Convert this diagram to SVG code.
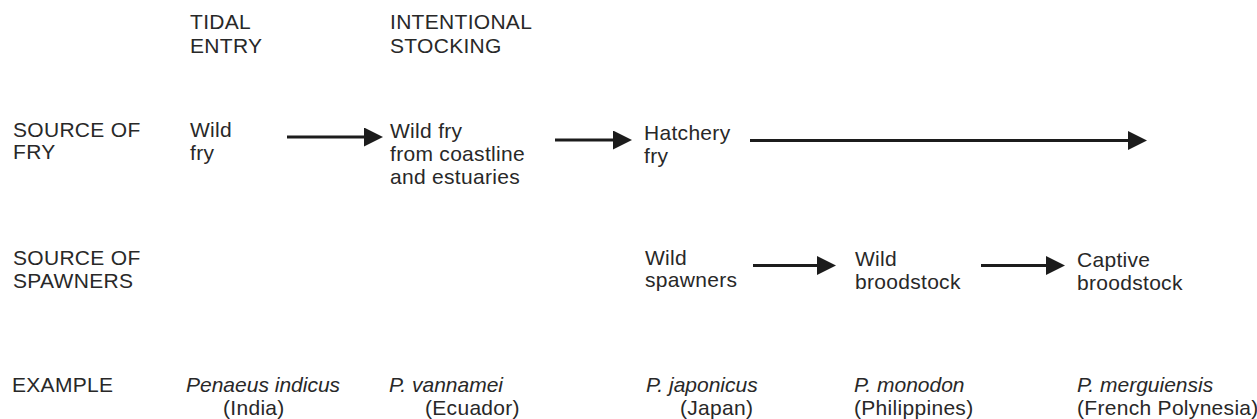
<svg xmlns="http://www.w3.org/2000/svg" width="1257" height="419" viewBox="0 0 1257 419">
<style>
text{font-family:"Liberation Sans",Arial,sans-serif;font-size:21px;fill:#282828;letter-spacing:0.3px}
.i{font-style:italic;letter-spacing:0}
.c{stroke:#1c1c1c;stroke-width:2.8;fill:none}
</style>
<defs>
<marker id="ah" viewBox="0 0 19 19" refX="13" refY="9.5" markerWidth="19" markerHeight="19" markerUnits="userSpaceOnUse" orient="auto">
<path d="M0,0 L19,9.5 L0,19 Z" fill="#1c1c1c"/>
</marker>
</defs>
<rect width="1257" height="419" fill="#fff"/>
<g id="col-tidal"><text x="190" y="29">TIDAL</text><text x="190" y="52.5">ENTRY</text></g>
<g id="col-stocking"><text x="390" y="29">INTENTIONAL</text><text x="390" y="52.5">STOCKING</text></g>
<g id="row-fry"><text x="13" y="136.5">SOURCE OF</text><text x="13" y="159">FRY</text></g>
<g id="row-spawners"><text x="13" y="264.5">SOURCE OF</text><text x="13" y="287.5">SPAWNERS</text></g>
<g id="row-example"><text x="12" y="392">EXAMPLE</text></g>
<g id="wild-fry"><text x="190" y="137">Wild</text><text x="190" y="159.5">fry</text></g>
<g id="coast-fry"><text x="390" y="138">Wild fry</text><text x="390" y="161">from coastline</text><text x="390" y="183.5">and estuaries</text></g>
<g id="hatchery-fry"><text x="644" y="139.5">Hatchery</text><text x="644" y="163">fry</text></g>
<g id="wild-spawners"><text x="645" y="264.5">Wild</text><text x="645" y="287">spawners</text></g>
<g id="wild-broodstock"><text x="855" y="265.5">Wild</text><text x="855" y="288.5">broodstock</text></g>
<g id="captive-broodstock"><text x="1077" y="266.5">Captive</text><text x="1077" y="290">broodstock</text></g>
<g id="ex-indicus"><text class="i" x="186" y="392">Penaeus indicus</text><text x="223" y="415">(India)</text></g>
<g id="ex-vannamei"><text class="i" x="389" y="392">P. vannamei</text><text x="425" y="415">(Ecuador)</text></g>
<g id="ex-japonicus"><text class="i" x="646" y="392">P. japonicus</text><text x="680" y="415">(Japan)</text></g>
<g id="ex-monodon"><text class="i" x="854" y="392">P. monodon</text><text x="854" y="415">(Philippines)</text></g>
<g id="ex-merguiensis"><text class="i" x="1077" y="392">P. merguiensis</text><text x="1077" y="415">(French Polynesia)</text></g>
<g id="connectors">
<line class="c" x1="287" y1="137" x2="377" y2="137" marker-end="url(#ah)"/>
<line class="c" x1="555" y1="140" x2="626" y2="140" marker-end="url(#ah)"/>
<line class="c" x1="750" y1="140.5" x2="1141" y2="140.5" marker-end="url(#ah)"/>
<line class="c" x1="753" y1="265.5" x2="830" y2="265.5" marker-end="url(#ah)"/>
<line class="c" x1="981" y1="265.5" x2="1059" y2="265.5" marker-end="url(#ah)"/>
</g>
</svg>
